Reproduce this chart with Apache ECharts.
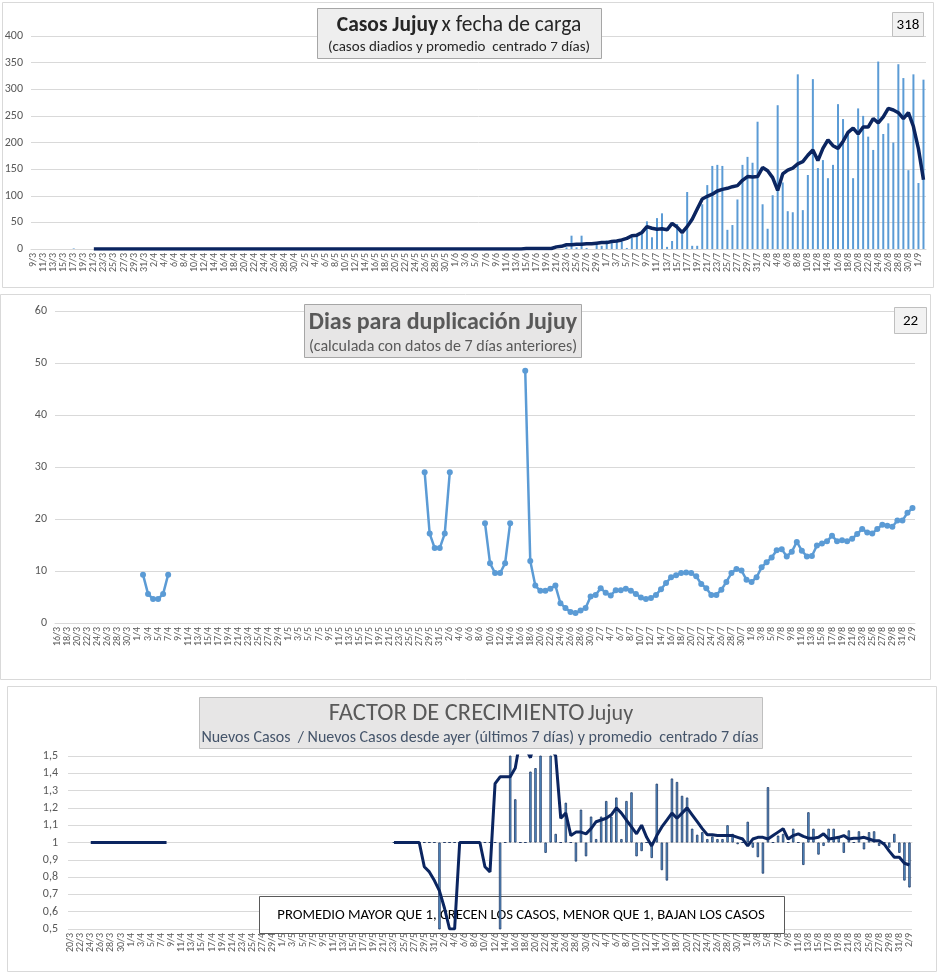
<!DOCTYPE html>
<html>
<head>
<meta charset="utf-8">
<script src="https://cdn.jsdelivr.net/npm/echarts@6/dist/echarts.min.js"></script>
<style>
  html, body { margin: 0; padding: 0; background: #fff; }
  #chart { width: 938px; height: 973px; }
</style>
</head>
<body>
<div id="chart"></div>
<script>
// fechas d/m desde 9/3 hasta 2/9
function monthDays(m, from, to) {
    const out = [];
    for (let d = from; d <= to; d += 1) out.push(`${d}/${m}`);
    return out;
}
const fechas = [].concat(
    monthDays(3, 9, 31), monthDays(4, 1, 30), monthDays(5, 1, 31),
    monthDays(6, 1, 30), monthDays(7, 1, 31), monthDays(8, 1, 31), monthDays(9, 1, 2),
);
const fechasDup = fechas.slice(fechas.indexOf('16/3'));
const fechasFactor = fechas.slice(fechas.indexOf('20/3'));

// casos diarios (9/3 .. 2/9)
const casosMarzo = [0, 0, 0, 0, 0, 0, 0, 0, 1, 0, 0, 0, 0, 0, 0, 0, 0, 0, 0, 0, 0, 0, 0];
const casosAbril = [0, 0, 0, 0, 0, 0, 0, 0, 0, 0, 0, 0, 0, 0, 0, 0, 0, 0, 0, 0, 0, 0, 0, 0, 0, 0, 0, 0, 0, 0];
const casosMayo = [0, 0, 0, 0, 0, 0, 0, 0, 0, 0, 0, 0, 0, 0, 0, 0, 0, 0, 0, 0, 0, 0, 0, 0, 0, 0, 0, 0, 0, 0, 0];
const casosJunio = [0, 0, 0, 0, 0, 0, 0, 0, 0, 0, 0, 0, 0, 0,
    1, 0, 2, 1, 0, 3, 0, 0, 3, 25, 3, 25, 2, 0, 11, 6];
const casosJulio = [16, 11, 15, 14, 2, 22, 26, 30, 52, 22, 58, 67, 4, 15, 47, 28, 107, 6, 6, 84,
    120, 156, 158, 156, 36, 45, 93, 158, 173, 162, 239];
const casosAgosto = [84, 38, 101, 270, 125, 71, 69, 328, 73, 139, 319, 152, 167, 133, 158, 272,
    244, 216, 133, 264, 250, 211, 186, 352, 216, 236, 200, 347, 321, 148, 328];
const casosSept = [124, 318];

// promedio centrado 7 dias
const promMarzo = [null, null, null, null, null, null, null, null, null, null, null, null,
    0, 0, 0, 0, 0, 0, 0, 0, 0, 0, 0];
const promAbril = [0, 0, 0, 0, 0, 0, 0, 0, 0, 0, 0, 0, 0, 0, 0, 0, 0, 0, 0, 0, 0, 0, 0, 0, 0, 0, 0, 0, 0, 0];
const promMayo = [0, 0, 0, 0, 0, 0, 0, 0, 0, 0, 0, 0, 0, 0, 0, 0, 0, 0, 0, 0, 0, 0, 0, 0, 0, 0, 0, 0, 0, 0, 0];
const promJunio = [0, 0, 0, 0, 0, 0, 0, 0, 0, 0, 0, 0, 0, 0,
    1, 1, 1, 1, 1, 1, 4, 5, 8, 8, 9, 9, 10, 10, 11, 12];
const promJulio = [12, 14, 15, 17, 20, 25, 26, 31, 42, 39, 37, 38, 36, 48, 41, 31, 42, 56, 75, 94,
    99, 103, 109, 112, 114, 117, 119, 129, 136, 135, 136];
const promAgosto = [153, 147, 134, 110, 141, 148, 152, 160, 164, 176, 186, 166, 189, 205, 194, 189,
    202, 219, 227, 216, 229, 229, 245, 237, 248, 264, 261, 256, 245, 256, 230];
const promSept = [188, 130];

// dias para duplicacion (tramos con dato)
const dupDesde = ['2/4', '28/5', '9/6', '17/6'];
const dupAbril = [9.3, 5.6, 4.6, 4.6, 5.6, 9.3];
const dupMayo = [29, 17.2, 14.4, 14.4, 17.2, 29];
const dupJunio = [19.2, 11.5, 9.6, 9.6, 11.5, 19.2];
const dupDesde17Jun = [48.5, 11.9, 7.2, 6.2, 6.2, 6.6, 7.2, 3.8, 2.9, 2.1, 1.9, 2.4, 2.9, 5.1,
    5.4, 6.7, 5.8, 5.3, 6.3, 6.3, 6.6, 6.2, 5.6, 4.9, 4.6, 4.8, 5.4, 6.5, 7.7, 8.8, 9.2, 9.6, 9.7, 9.6,
    9.0, 7.5, 6.7, 5.4, 5.4, 6.4, 7.9, 9.6, 10.4, 10.1, 8.3,
    7.9, 8.8, 10.7, 11.7, 12.6, 14.0, 14.2, 12.8, 13.7, 15.6, 13.9, 12.8, 12.9, 14.9, 15.3, 15.7,
    16.8, 15.7, 15.9, 15.7, 16.2, 17.1, 18.1, 17.4, 17.2, 18.1, 18.9, 18.7, 18.5, 19.7, 19.7,
    21.2, 22.1];

// factor de crecimiento diario (20/3 .. 2/9)
const factorMarzo = [null, null, null, null, null, null, null, null, null, null, null, null];
const factorAbril = [null, null, null, null, null, null, null, null, null, null, null, null, null, null, null,
    null, null, null, null, null, null, null, null, null, null, null, null, null, null, null];
const factorMayo = [null, null, null, null, null, null, null, null, null, null, null, null, null, null, null,
    null, null, null, null, null, null, null, 1, 1, 1, 1, 1, 1, 1, 1, 1];
const factorJunio = [0.3, 1, 1, 1, 1, 1, 1, 1, 1, 1, 1, 1, 0.3, 1, 1.6, 1.25, 1, 1, 1.41, 1.43,
    1.6, 0.94, 1.6, 1.05, 1, 1.23, 1, 0.89, 1.19, 0.92];
const factorJulio = [1.15, 1.02, 1.15, 1.24, 1.15, 1.26, 1.02, 1.24, 1.29, 0.92, 0.95, 1.0, 0.91,
    1.34, 0.84, 0.78, 1.37, 1.35, 1.27, 1.26, 1.08, 1.045, 1.06, 1.02, 1.035, 1.02, 1.02, 1.10,
    1.05, 0.99, 1.0];
const factorAgosto = [1.12, 0.97, 0.915, 0.82, 1.32, 1.0, 1.04, 1.05, 1.0, 1.08, 1.0, 0.87, 1.175,
    1.08, 0.93, 0.98, 1.08, 1.08, 1.035, 0.94, 1.07, 1.0, 1.065, 0.96, 1.06, 1.065, 0.98, 1.0,
    0.97, 1.05, 0.94];
const factorSept = [0.78, 0.74];

// promedio centrado 7 dias del factor
const factorPromMarzo = [null, null, null, null, 1, 1, 1, 1, 1, 1, 1, 1];
const factorPromAbril = [1, 1, 1, 1, 1, 1, 1, 1, null, null, null, null, null, null, null,
    null, null, null, null, null, null, null, null, null, null, null, null, null, null, null];
const factorPromMayo = [null, null, null, null, null, null, null, null, null, null, null, null, null, null, null,
    null, null, null, null, null, null, null, 1, 1, 1, 1, 1, 1, 0.86, 0.83, 0.78];
const factorPromJunio = [0.72, 0.62, 0.5, 0.5, 1, 1, 1, 1, 1, 0.86, 0.83, 1.34, 1.38, 1.38, 1.38,
    1.43, 1.6, 1.55, 1.49, 1.6, 1.7, 1.65, 1.55, 1.5, 1.14, 1.17, 1.04, 1.06, 1.06, 1.05];
const factorPromJulio = [1.08, 1.12, 1.13, 1.14, 1.16, 1.20, 1.17, 1.13, 1.09, 1.05, 1.10, 1.03,
    0.98, 1.04, 1.09, 1.13, 1.17, 1.14, 1.17, 1.20, 1.16, 1.12, 1.08, 1.045, 1.045, 1.04, 1.04,
    1.04, 1.04, 1.03, 1.02];
const factorPromAgosto = [0.98, 1.02, 1.03, 1.03, 1.02, 1.04, 1.06, 1.08, 1.02, 1.04, 1.05, 1.035,
    1.025, 1.025, 1.03, 1.05, 1.02, 1.025, 1.03, 1.04, 1.02, 1.025, 1.025, 1.03, 1.02, 1.01, 1.01,
    0.99, 0.95, 0.915, 0.915];
const factorPromSept = [0.88, 0.87];

const casosDiarios = [].concat(casosMarzo, casosAbril, casosMayo, casosJunio, casosJulio, casosAgosto, casosSept);
const promedioCasos = [].concat(promMarzo, promAbril, promMayo, promJunio, promJulio, promAgosto, promSept);
const factorDiario = [].concat(factorMarzo, factorAbril, factorMayo, factorJunio, factorJulio, factorAgosto, factorSept);
const factorPromedio = [].concat(factorPromMarzo, factorPromAbril, factorPromMayo, factorPromJunio,
    factorPromJulio, factorPromAgosto, factorPromSept);

// serie de duplicacion con huecos
const diasDuplicacion = fechasDup.map(() => null);
[dupAbril, dupMayo, dupJunio, dupDesde17Jun].forEach((tramo, k) => {
    const start = fechasDup.indexOf(dupDesde[k]);
    tramo.forEach((v, j) => { diasDuplicacion[start + j] = v; });
});

// el factor se dibuja respecto de 1 (las barras nacen en 1)
const rel1 = (arr) => arr.map((v) => (v == null ? null : +(v - 1).toFixed(4)));

const FONT = 'Carlito, Lato, sans-serif';
const GRAY = '#595959';
const GRID = '#d9d9d9';
const BLUE = '#5B9BD5';
const NAVY = '#0b2560';

const chart = echarts.init(document.getElementById('chart'), null, { renderer: 'canvas' });

const catAxis = (gridIndex, data, extra) => Object.assign({
    type: 'category',
    gridIndex,
    data,
    boundaryGap: true,
    axisLine: { lineStyle: { color: GRID } },
    axisTick: { interval: 1, length: 4, lineStyle: { color: GRID } },
    axisLabel: { rotate: 90, interval: 1, fontSize: 10, color: GRAY, fontFamily: FONT, margin: 4 },
}, extra || {});

const valAxisLabel = { fontSize: 12, color: GRAY, fontFamily: FONT };

function box(x, y, w, h, fill, stroke) {
    return { type: 'rect', shape: { x, y, width: w, height: h }, style: { fill, stroke, lineWidth: 1 }, z: 20, silent: true };
}
function label(x, y, text, font, color, z) {
    return {
        type: 'text', x, y, z: z || 21, silent: true,
        style: { text, font, fill: color, align: 'center', verticalAlign: 'middle' },
    };
}

chart.setOption({
    animation: false,
    textStyle: { fontFamily: FONT },
    grid: [
        { left: 31, top: 36, width: 895, height: 213, containLabel: false },
        { left: 55, top: 311, width: 860, height: 312, containLabel: false },
        { left: 68, top: 756, width: 844, height: 173, containLabel: false },
    ],
    xAxis: [
        catAxis(0, fechas),
        catAxis(1, fechasDup),
        catAxis(2, fechasFactor, {
            position: 'bottom',
            axisLine: { onZero: true, lineStyle: { color: GRID } },
            axisLabel: { show: false },
        }),
        catAxis(2, fechasFactor, {
            position: 'bottom',
            axisLine: { show: false, onZero: false },
            axisTick: { show: false },
        }),
    ],
    yAxis: [
        {
            type: 'value', gridIndex: 0, min: 0, max: 400, interval: 50,
            axisLine: { show: false }, axisTick: { show: false },
            splitLine: { lineStyle: { color: GRID } },
            axisLabel: valAxisLabel,
        },
        {
            type: 'value', gridIndex: 1, min: 0, max: 60, interval: 10,
            axisLine: { show: false }, axisTick: { show: false },
            splitLine: { lineStyle: { color: GRID } },
            axisLabel: valAxisLabel,
        },
        {
            type: 'value', gridIndex: 2, min: -0.5, max: 0.5, interval: 0.1,
            axisLine: { show: false }, axisTick: { show: false },
            splitLine: { lineStyle: { color: GRID } },
            axisLabel: Object.assign({}, valAxisLabel, {
                margin: 10,
                formatter: (v) => String(+(v + 1).toFixed(1)).replace('.', ','),
            }),
        },
    ],
    series: [
        {
            name: 'casos', type: 'bar', xAxisIndex: 0, yAxisIndex: 0,
            data: casosDiarios, barWidth: 2, itemStyle: { color: BLUE },
        },
        {
            name: 'promedio', type: 'line', xAxisIndex: 0, yAxisIndex: 0,
            data: promedioCasos, symbol: 'none', connectNulls: false,
            lineStyle: { color: NAVY, width: 3.5 }, z: 3,
        },
        {
            name: 'duplicacion', type: 'line', xAxisIndex: 1, yAxisIndex: 1,
            data: diasDuplicacion, connectNulls: false, symbol: 'circle', symbolSize: 6,
            showAllSymbol: true,
            lineStyle: { color: BLUE, width: 2.5 }, itemStyle: { color: BLUE },
        },
        {
            name: 'factor', type: 'bar', xAxisIndex: 2, yAxisIndex: 2,
            data: rel1(factorDiario), barWidth: 2.4,
            itemStyle: { color: BLUE, borderColor: '#1f3864', borderWidth: 0.8 },
        },
        {
            name: 'factor promedio', type: 'line', xAxisIndex: 2, yAxisIndex: 2,
            data: rel1(factorPromedio), symbol: 'none', connectNulls: false,
            lineStyle: { color: NAVY, width: 3 }, z: 3,
        },
    ],
    graphic: [
        // marcos de los tres graficos
        { type: 'rect', shape: { x: 2.5, y: 2.5, width: 931, height: 285 }, style: { fill: 'none', stroke: GRID }, z: 0, silent: true },
        { type: 'rect', shape: { x: 0.5, y: 294.5, width: 930, height: 385 }, style: { fill: 'none', stroke: GRID }, z: 0, silent: true },
        { type: 'rect', shape: { x: 7.5, y: 686.5, width: 929, height: 285 }, style: { fill: 'none', stroke: GRID }, z: 0, silent: true },

        // titulo 1
        box(317.5, 8.5, 284, 50, '#eeeeee', '#a6a6a6'),
        {
            type: 'text', x: 459, y: 26, z: 21, silent: true,
            style: {
                text: '{b|Casos Jujuy} {n|x fecha de carga}',
                align: 'center', verticalAlign: 'middle',
                rich: {
                    b: { fontFamily: FONT, fontSize: 21.5, fontWeight: 'bold', fill: '#262626' },
                    n: { fontFamily: FONT, fontSize: 21.5, fill: '#262626' },
                },
            },
        },
        label(459, 47, '(casos diadios y promedio  centrado 7 días)', `15px ${FONT}`, '#262626'),
        box(892.5, 12.5, 31, 24, '#f2f2f2', '#bfbfbf'),
        label(908, 25, String(casosDiarios[casosDiarios.length - 1]), `15px ${FONT}`, '#000'),

        // titulo 2
        box(304.5, 304.5, 277, 53, '#e7e6e6', '#a6a6a6'),
        label(443, 323, 'Dias para duplicación Jujuy', `bold 24px ${FONT}`, GRAY),
        label(443, 347, '(calculada con datos de 7 días anteriores)', `16px ${FONT}`, GRAY),
        box(894.5, 307.5, 32, 26, '#f2f2f2', '#bfbfbf'),
        label(910.5, 321, String(Math.round(dupDesde17Jun[dupDesde17Jun.length - 1])), `15px ${FONT}`, '#000'),

        // titulo 3
        box(199.5, 697.5, 563, 51, '#e7e6e6', '#bfbfbf'),
        {
            type: 'text', x: 481, y: 714, z: 21, silent: true,
            style: {
                text: '{a|FACTOR DE CRECIMIENTO} {b|Jujuy}',
                align: 'center', verticalAlign: 'middle',
                rich: {
                    a: { fontFamily: FONT, fontSize: 24.5, fill: GRAY },
                    b: { fontFamily: FONT, fontSize: 22, fill: GRAY },
                },
            },
        },
        label(480, 738, 'Nuevos Casos  / Nuevos Casos desde ayer (últimos 7 días) y promedio  centrado 7 días',
            `16px ${FONT}`, '#44546a'),

        // recuadro explicativo (debajo de las series)
        {
            type: 'rect', shape: { x: 259.5, y: 896.5, width: 525, height: 37 },
            style: { fill: '#ffffff', stroke: GRAY, lineWidth: 1 }, z: 1, silent: true,
        },
        {
            type: 'text', x: 521, y: 915, z: 1, silent: true,
            style: {
                text: 'PROMEDIO MAYOR QUE 1, CRECEN LOS CASOS, MENOR QUE 1, BAJAN LOS CASOS',
                font: `14.7px ${FONT}`, fill: '#000', align: 'center', verticalAlign: 'middle',
            },
        },
    ],
});
</script>
</body>
</html>
